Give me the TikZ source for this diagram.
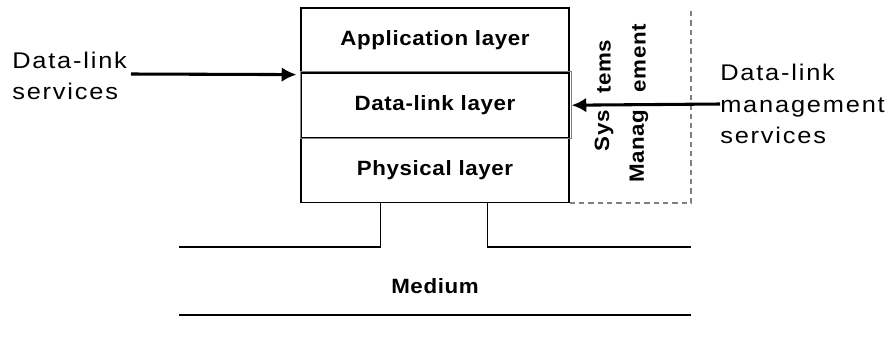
\documentclass[tikz,border=0pt]{standalone}
\usepackage{fontspec}
\setmainfont{Liberation Sans}
\newfontfamily\layerfont[LetterSpace=3,FakeStretch=1.08]{Liberation Sans}
\newfontfamily\sidefont[LetterSpace=8,FakeStretch=1.12]{Liberation Sans}
\usepackage{tikz}
\usetikzlibrary{arrows.meta}
\usetikzlibrary{positioning}
\tikzset{
    layer/.style = {draw,line width=0.9pt,minimum width=201pt,minimum height=48pt,inner sep=0,
        font=\layerfont\bfseries\fontsize{15.5}{17}\selectfont},
    sidelabel/.style = {inner sep=0,align=left,font=\sidefont\fontsize{17}{23.5}\selectfont},
    mgmttext/.style = {inner sep=0,rotate=90,font=\layerfont\bfseries\fontsize{15.5}{17}\selectfont},
    svc/.style = {line width=2.3pt,-{Latex[length=11pt,width=11pt]}},
    medium/.style = {line width=0.9pt},
    mgmtbox/.style = {gray,line width=0.9pt,dash pattern=on 4pt off 3pt}
}

\begin{document}
\begin{tikzpicture}[x=0.75pt,y=-0.75pt]
        \useasboundingbox (0,0) rectangle (886,337);
        % Layers
        \node[layer] (app) at (435,40) {Application layer};
        \node[layer,below=0 of app] (dll) {Data-link layer};
        \node[layer,below=0 of dll] (phy) {Physical layer};
        \draw[gray,line width=0.7pt] ([shift={(0,-1)}]dll.north west) rectangle ([shift={(2,1)}]dll.south east);
        % Systems management
        \coordinate (smtop) at (691,8);
        \draw[mgmtbox] (phy.south east) -| (smtop);
        \node[mgmttext] (sys) at (604,131) {Sys};
        \node[mgmttext] (tems) at (604,67) {tems};
        \node[mgmttext] (manag) at (639,146) {Manag};
        \node[mgmttext] (ement) at (639,58) {ement};
        % Services
        \node[sidelabel,anchor=west] (dlsvc) at (12,76) {Data-link\\services};
        \node[sidelabel,anchor=west] (mgmt) at (720,104) {Data-link\\management\\services};
        \coordinate (svcin) at (131,74);
        \draw[svc] (svcin) -- ([shift={(-4,2)}]dll.north west);
        \draw[svc] (mgmt.west) -- ([xshift=1.5pt]dll.east);
        % Medium
        \coordinate (mleft) at (179,247);
        \coordinate (mright) at (691,247);
        \coordinate (mbl) at (179,315);
        \coordinate (mbr) at (691,315);
        \draw[medium] ([xshift=60pt]phy.south west) |- (mleft);
        \draw[medium] ([xshift=140.25pt]phy.south west) |- (mright);
        \draw[medium] (mbl) -- (mbr);
        \node[font=\layerfont\bfseries\fontsize{15.5}{17}\selectfont] (med) at (435,286) {Medium};
    \end{tikzpicture}
\end{document}
